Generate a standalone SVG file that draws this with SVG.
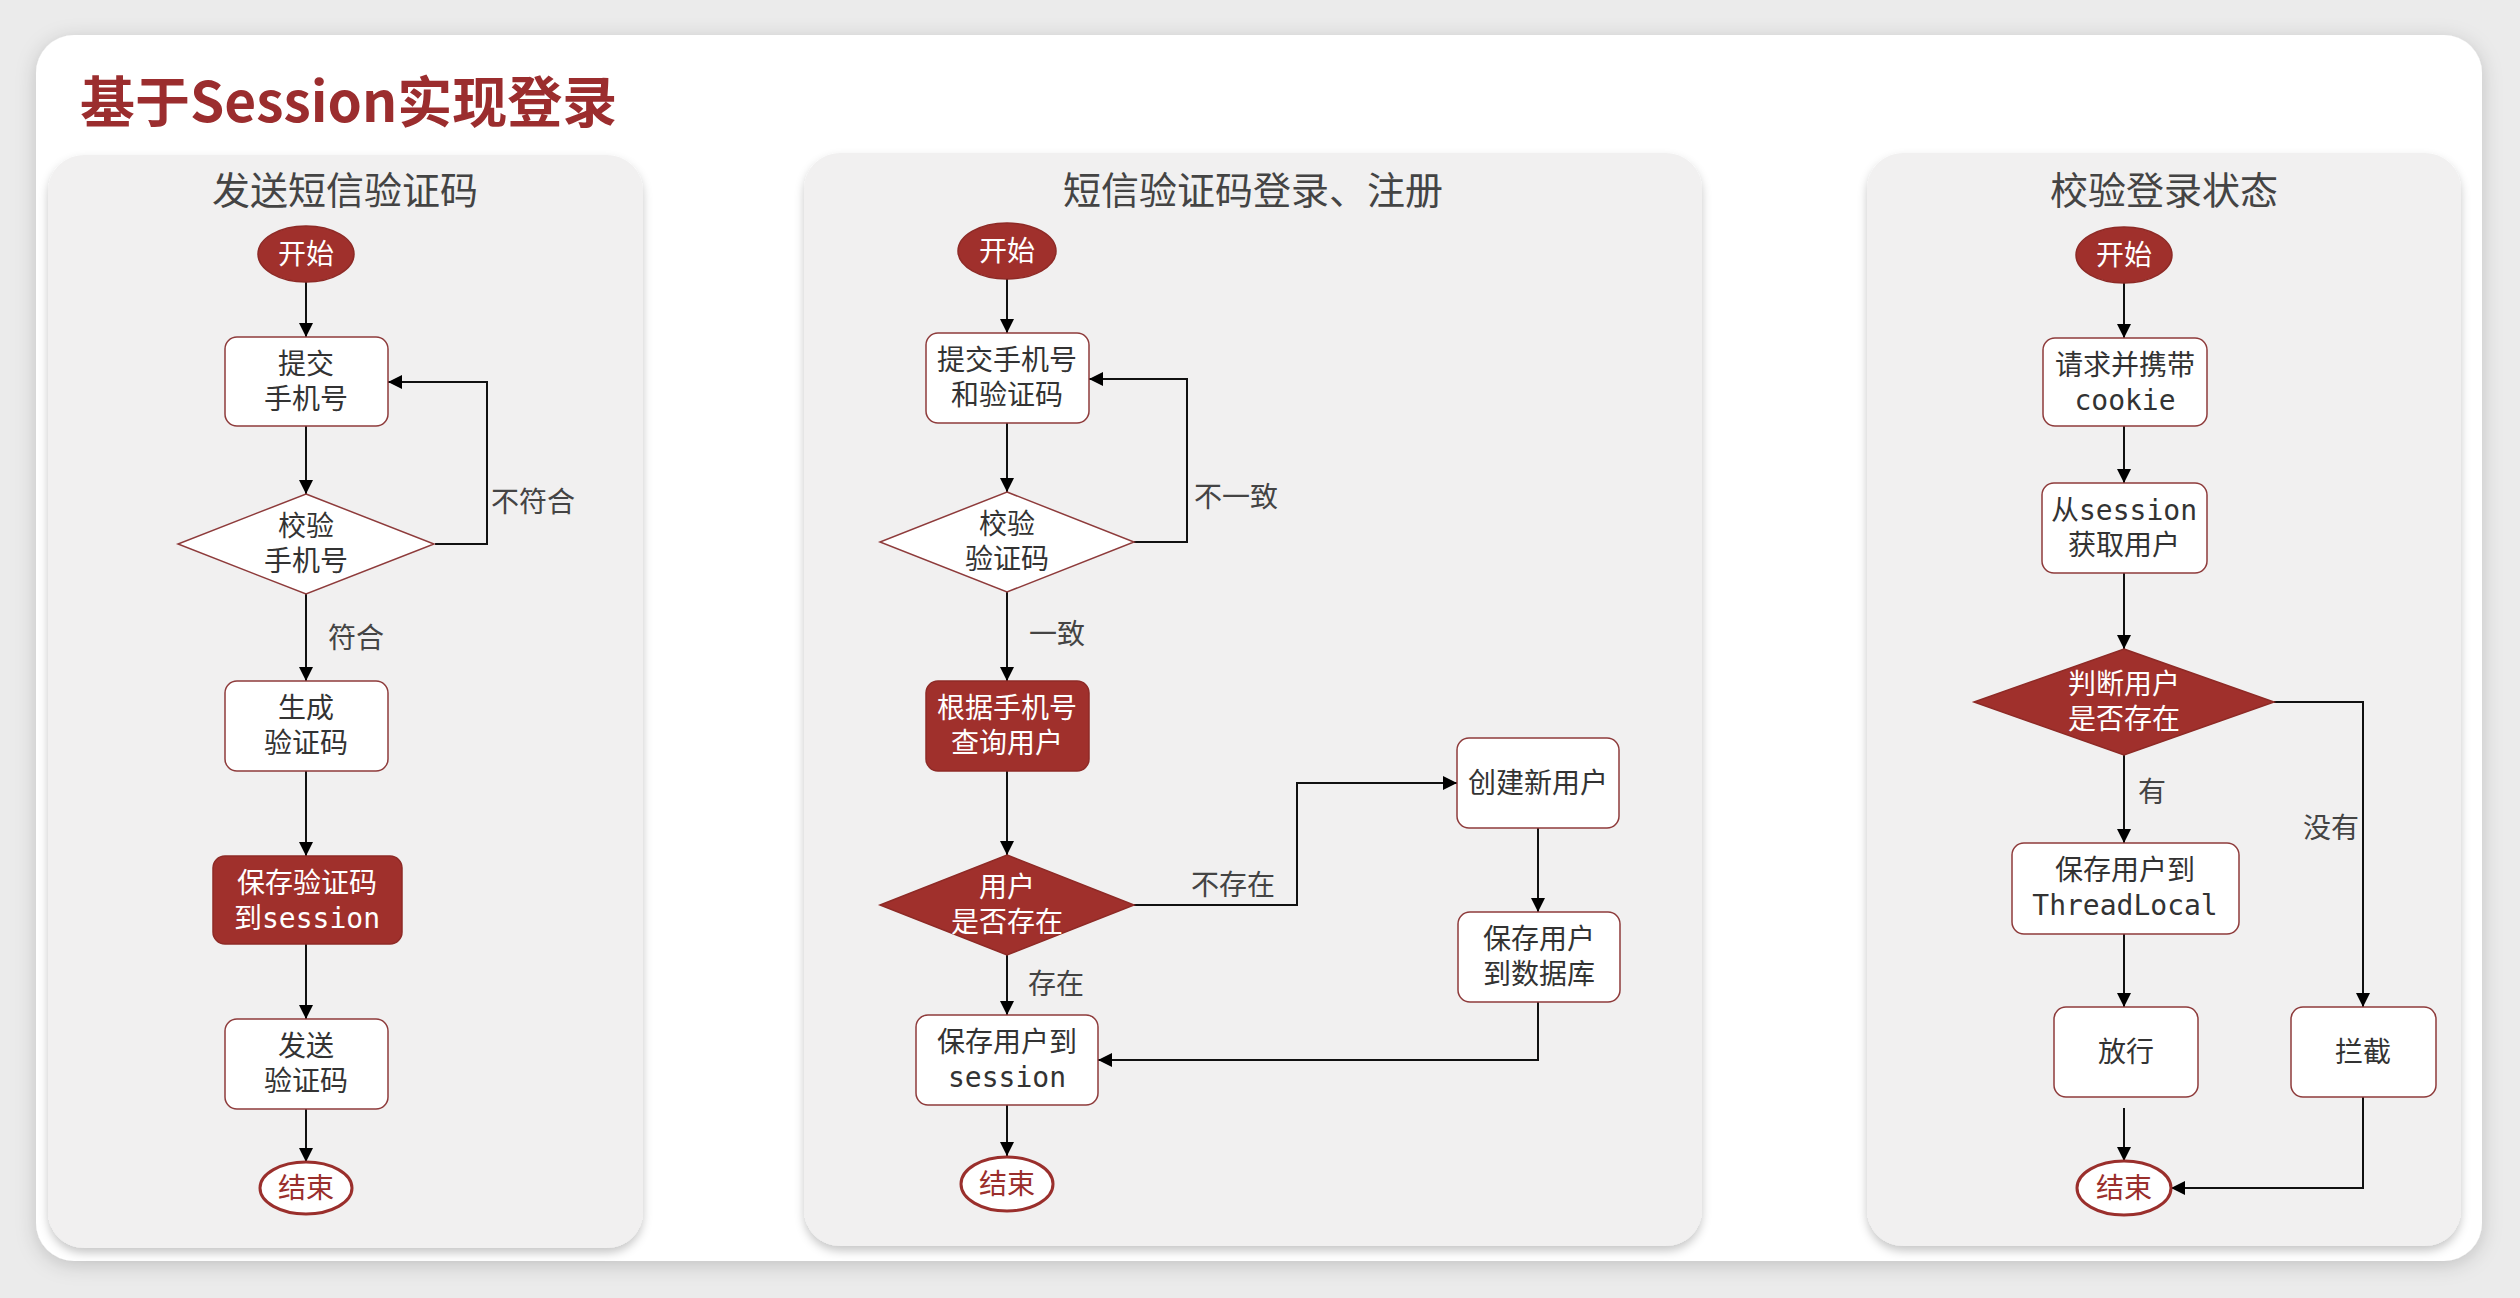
<svg xmlns="http://www.w3.org/2000/svg" width="2520" height="1298" viewBox="0 0 2520 1298">
<defs>
<style>
.card{fill:#ffffff}
.panel{fill:#f1f0f0}
.ptitle{font-family:"Noto Sans CJK SC",sans-serif;font-size:38px;fill:#444;text-anchor:middle}
.box{fill:#ffffff;stroke:#8e3b3b;stroke-width:1.5}
.rbox{fill:#a0302c;stroke:#8e2a26;stroke-width:1.5}
.t{font-family:"Noto Sans CJK SC",sans-serif;font-size:28px;fill:#333;text-anchor:middle}
.tw{font-family:"Noto Sans CJK SC",sans-serif;font-size:28px;fill:#ffffff;text-anchor:middle}
.tr{font-family:"Noto Sans CJK SC",sans-serif;font-size:28px;fill:#9a2f2c;text-anchor:middle}
.mono{font-family:"DejaVu Sans Mono",monospace;font-size:28px}
.endo{fill:#ffffff;stroke:#9a2f2c;stroke-width:3}
.lbl{font-family:"Noto Sans CJK SC",sans-serif;font-size:28px;fill:#444;text-anchor:middle}
.c{fill:none;stroke:#111;stroke-width:2}
</style>
<marker id="ah" viewBox="0 0 10 10" refX="10" refY="5" markerUnits="userSpaceOnUse" markerWidth="14" markerHeight="14" orient="auto">
<path d="M0,0 L10,5 L0,10 z" fill="#000"/>
</marker>
<filter id="sh" x="-5%" y="-5%" width="110%" height="110%">
<feDropShadow dx="0" dy="5" stdDeviation="5" flood-color="#000" flood-opacity="0.22"/>
</filter>
<filter id="sh2" x="-5%" y="-5%" width="110%" height="110%">
<feDropShadow dx="0" dy="4" stdDeviation="10" flood-color="#000" flood-opacity="0.18"/>
</filter>
</defs>
<rect x="0" y="0" width="2520" height="1298" fill="#ebebeb"/>
<rect class="card" x="36" y="35" width="2446" height="1226" rx="38" filter="url(#sh2)"/>
<text x="80" y="122" font-family="'Noto Sans CJK SC',sans-serif" font-size="55" font-weight="bold" fill="#9b2d2e">基于Session实现登录</text>

<g id="panel1">
<rect class="panel" x="48" y="155" width="595" height="1093" rx="36" filter="url(#sh)"/>
<text class="ptitle" x="345" y="204">发送短信验证码</text>
</g>
<g id="panel2">
<rect class="panel" x="804" y="153" width="898" height="1093" rx="36" filter="url(#sh)"/>
<text class="ptitle" x="1253" y="204">短信验证码登录、注册</text>
</g>
<g id="panel3">
<rect class="panel" x="1867" y="153" width="594" height="1093" rx="36" filter="url(#sh)"/>
<text class="ptitle" x="2164" y="204">校验登录状态</text>
</g>

<g id="connectors">
<path class="c" d="M306,282 V337" marker-end="url(#ah)"/>
<path class="c" d="M306,426 V494" marker-end="url(#ah)"/>
<path class="c" d="M435,544 H487 V382 H388" marker-end="url(#ah)"/>
<path class="c" d="M306,594 V681" marker-end="url(#ah)"/>
<path class="c" d="M306,771 V856" marker-end="url(#ah)"/>
<path class="c" d="M306,944 V1019" marker-end="url(#ah)"/>
<path class="c" d="M306,1109 V1162" marker-end="url(#ah)"/>

<path class="c" d="M1007,279 V333" marker-end="url(#ah)"/>
<path class="c" d="M1007,423 V492" marker-end="url(#ah)"/>
<path class="c" d="M1134,542 H1187 V379 H1089" marker-end="url(#ah)"/>
<path class="c" d="M1007,592 V681" marker-end="url(#ah)"/>
<path class="c" d="M1007,771 V855" marker-end="url(#ah)"/>
<path class="c" d="M1134,905 H1297 V783 H1457" marker-end="url(#ah)"/>
<path class="c" d="M1538,828 V912" marker-end="url(#ah)"/>
<path class="c" d="M1538,1002 V1060 H1098" marker-end="url(#ah)"/>
<path class="c" d="M1007,955 V1015" marker-end="url(#ah)"/>
<path class="c" d="M1007,1105 V1156" marker-end="url(#ah)"/>

<path class="c" d="M2124,283 V338" marker-end="url(#ah)"/>
<path class="c" d="M2124,426 V483" marker-end="url(#ah)"/>
<path class="c" d="M2124,573 V649" marker-end="url(#ah)"/>
<path class="c" d="M2124,755 V843" marker-end="url(#ah)"/>
<path class="c" d="M2124,934 V1007" marker-end="url(#ah)"/>
<path class="c" d="M2124,1108 V1161" marker-end="url(#ah)"/>
<path class="c" d="M2274,702 H2363 V1007" marker-end="url(#ah)"/>
<path class="c" d="M2363,1097 V1188 H2171" marker-end="url(#ah)"/>

<text class="lbl" x="533" y="512">不符合</text>
<text class="lbl" x="356" y="648">符合</text>
<text class="lbl" x="1236" y="507">不一致</text>
<text class="lbl" x="1057" y="644">一致</text>
<text class="lbl" x="1233" y="895">不存在</text>
<text class="lbl" x="1056" y="994">存在</text>
<text class="lbl" x="2152" y="802">有</text>
<text class="lbl" x="2331" y="838">没有</text>
</g>

<g id="p1-start"><ellipse class="rbox" cx="306" cy="254" rx="48" ry="28"/><text class="tw" x="306" y="264">开始</text></g>
<g id="p1-submit"><rect class="box" x="225" y="337" width="163" height="89" rx="12"/><text class="t" x="306" y="374">提交</text><text class="t" x="306" y="409">手机号</text></g>
<g id="p1-check"><path class="box" d="M306,494 L434,544 L306,594 L178,544 Z"/><text class="t" x="306" y="536">校验</text><text class="t" x="306" y="571">手机号</text></g>
<g id="p1-gen"><rect class="box" x="225" y="681" width="163" height="90" rx="12"/><text class="t" x="306" y="718">生成</text><text class="t" x="306" y="753">验证码</text></g>
<g id="p1-save"><rect class="rbox" x="213" y="856" width="189" height="88" rx="12"/><text class="tw" x="307" y="893">保存验证码</text><text class="tw" x="307" y="928">到<tspan class="mono">session</tspan></text></g>
<g id="p1-send"><rect class="box" x="225" y="1019" width="163" height="90" rx="12"/><text class="t" x="306" y="1056">发送</text><text class="t" x="306" y="1091">验证码</text></g>
<g id="p1-end"><ellipse class="endo" cx="306" cy="1188" rx="46" ry="26"/><text class="tr" x="306" y="1198">结束</text></g>

<g id="p2-start"><ellipse class="rbox" cx="1007" cy="251" rx="49" ry="28"/><text class="tw" x="1007" y="261">开始</text></g>
<g id="p2-submit"><rect class="box" x="926" y="333" width="163" height="90" rx="12"/><text class="t" x="1007" y="370">提交手机号</text><text class="t" x="1007" y="405">和验证码</text></g>
<g id="p2-check"><path class="box" d="M1007,492 L1134,542 L1007,592 L880,542 Z"/><text class="t" x="1007" y="534">校验</text><text class="t" x="1007" y="569">验证码</text></g>
<g id="p2-query"><rect class="rbox" x="926" y="681" width="163" height="90" rx="12"/><text class="tw" x="1007" y="718">根据手机号</text><text class="tw" x="1007" y="753">查询用户</text></g>
<g id="p2-exists"><path class="rbox" d="M1007,855 L1134,905 L1007,955 L880,905 Z"/><text class="tw" x="1007" y="897">用户</text><text class="tw" x="1007" y="932">是否存在</text></g>
<g id="p2-create"><rect class="box" x="1457" y="738" width="162" height="90" rx="12"/><text class="t" x="1538" y="793">创建新用户</text></g>
<g id="p2-savedb"><rect class="box" x="1458" y="912" width="162" height="90" rx="12"/><text class="t" x="1539" y="949">保存用户</text><text class="t" x="1539" y="984">到数据库</text></g>
<g id="p2-savesession"><rect class="box" x="916" y="1015" width="182" height="90" rx="12"/><text class="t" x="1007" y="1052">保存用户到</text><text class="t" x="1007" y="1087"><tspan class="mono">session</tspan></text></g>
<g id="p2-end"><ellipse class="endo" cx="1007" cy="1184" rx="46" ry="27"/><text class="tr" x="1007" y="1194">结束</text></g>

<g id="p3-start"><ellipse class="rbox" cx="2124" cy="255" rx="48" ry="28"/><text class="tw" x="2124" y="265">开始</text></g>
<g id="p3-request"><rect class="box" x="2043" y="338" width="164" height="88" rx="12"/><text class="t" x="2125" y="375">请求并携带</text><text class="t" x="2125" y="410"><tspan class="mono">cookie</tspan></text></g>
<g id="p3-getuser"><rect class="box" x="2042" y="483" width="165" height="90" rx="12"/><text class="t" x="2124" y="520">从<tspan class="mono">session</tspan></text><text class="t" x="2124" y="555">获取用户</text></g>
<g id="p3-judge"><path class="rbox" d="M2124,649 L2274,702 L2124,755 L1974,702 Z"/><text class="tw" x="2124" y="694">判断用户</text><text class="tw" x="2124" y="729">是否存在</text></g>
<g id="p3-threadlocal"><rect class="box" x="2012" y="843" width="227" height="91" rx="12"/><text class="t" x="2125" y="880">保存用户到</text><text class="t" x="2125" y="915"><tspan class="mono">ThreadLocal</tspan></text></g>
<g id="p3-pass"><rect class="box" x="2054" y="1007" width="144" height="90" rx="12"/><text class="t" x="2126" y="1062">放行</text></g>
<g id="p3-block"><rect class="box" x="2291" y="1007" width="145" height="90" rx="12"/><text class="t" x="2363" y="1062">拦截</text></g>
<g id="p3-end"><ellipse class="endo" cx="2124" cy="1188" rx="47" ry="27"/><text class="tr" x="2124" y="1198">结束</text></g>
</svg>
